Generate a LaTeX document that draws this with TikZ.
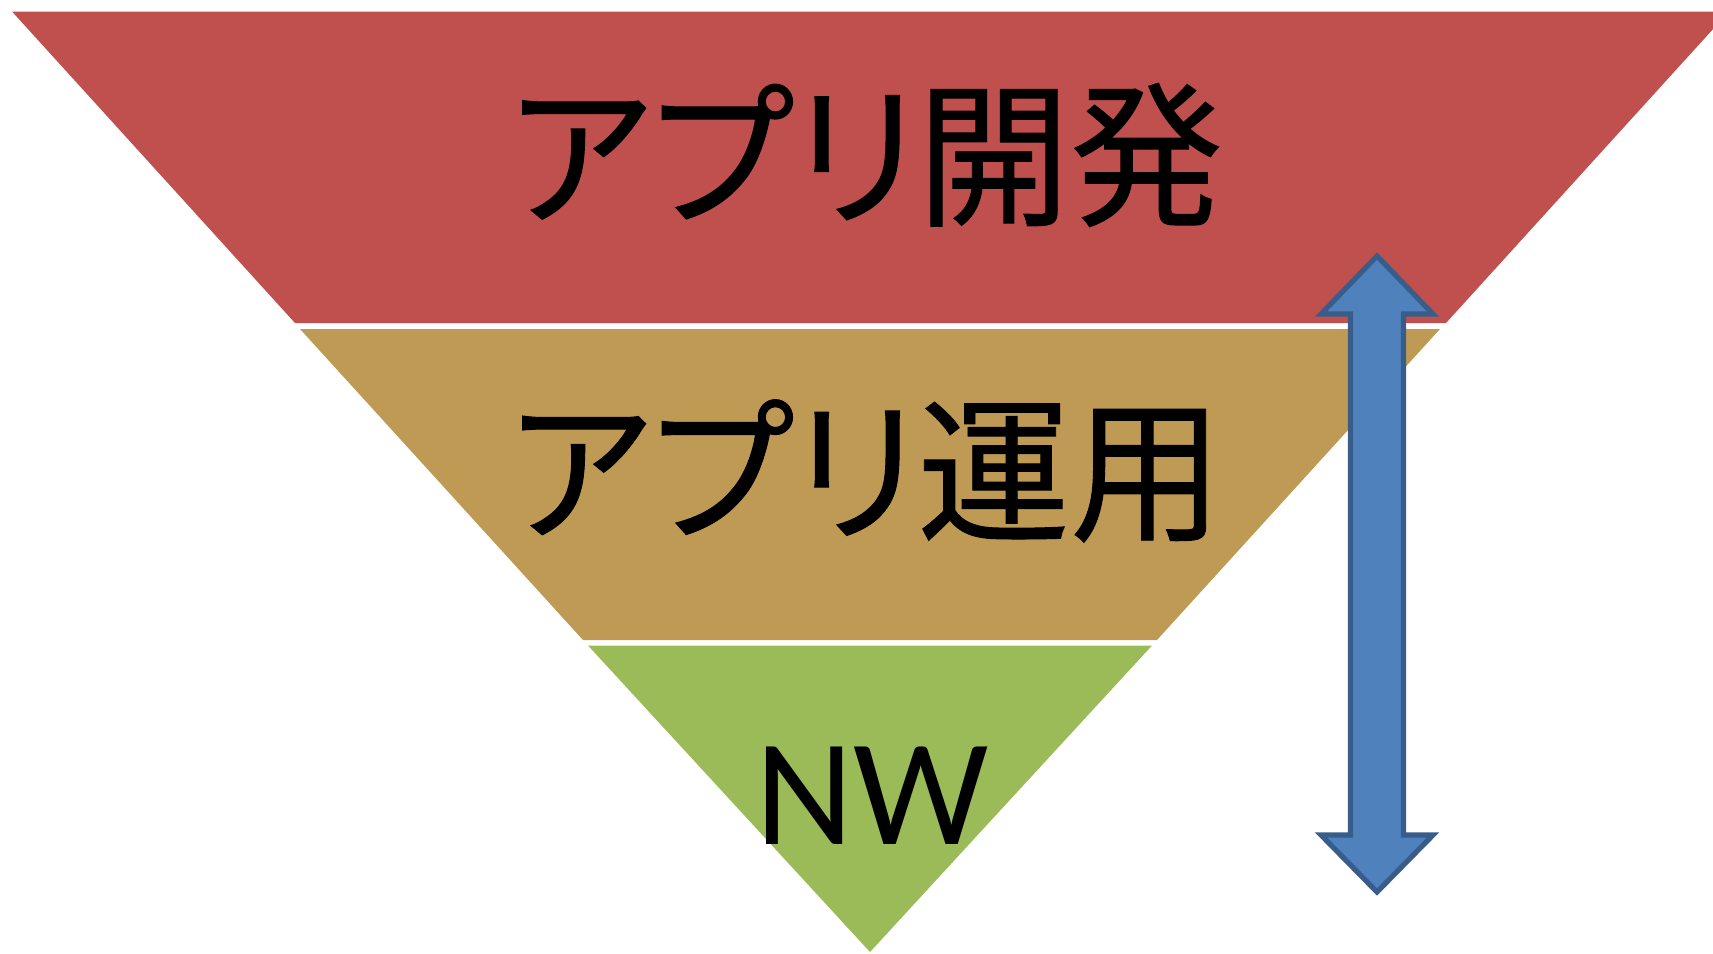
\documentclass[tikz,border=0pt]{standalone}
\usepackage{fontspec}
\newfontfamily\jpfont[RawFeature=+palt, FakeBold=0.6]{Noto Sans CJK JP}
\newfontfamily\nwfont{Carlito}
\definecolor{bandred}{HTML}{C0504D}
\definecolor{bandgold}{HTML}{BE9A54}
\definecolor{bandgreen}{HTML}{9BBB59}
\definecolor{arrowfill}{HTML}{4F81BD}
\definecolor{arrowline}{HTML}{385D8A}
\tikzset{
  band/.style={draw=none},
  jplabel/.style={inner sep=0pt, anchor=center, text=black},
  bigarrow/.style={fill=arrowfill, draw=arrowline, line width=2.6pt, miter limit=10},
}
\begin{document}
\begin{tikzpicture}[x=0.5pt,y=-0.5pt]
\useasboundingbox (0,0) rectangle (1713,953);
\clip (0,0) rectangle (1713,953);
% bands
\fill[band, bandred] (12,11.5) -- (1729,11.5) -- (1446,323) -- (295,323) -- cycle;
\fill[band, bandgold] (300,329) -- (1440,329) -- (1157,640) -- (583,640) -- cycle;
\fill[band, bandgreen] (588,645.5) -- (1152,645.5) -- (870,952) -- cycle;
% labels
\node[jplabel] (dev) at (866,155) {\jpfont\fontsize{78}{78}\selectfont\scalebox{0.98}[1]{アプリ開発}};
\node[jplabel] (ops) at (866,471) {\jpfont\fontsize{78}{78}\selectfont\scalebox{0.98}[1]{アプリ運用}};
\node[jplabel] (nw) at (872,796) {\nwfont\fontsize{76}{76}\selectfont NW};
% double arrow
\draw[bigarrow] (1377,256) -- (1433,314) -- (1403.5,314) -- (1403.5,835) -- (1433,835)
  -- (1377,892) -- (1321,835) -- (1350.5,835) -- (1350.5,314) -- (1321,314) -- cycle;
\end{tikzpicture}
\end{document}
